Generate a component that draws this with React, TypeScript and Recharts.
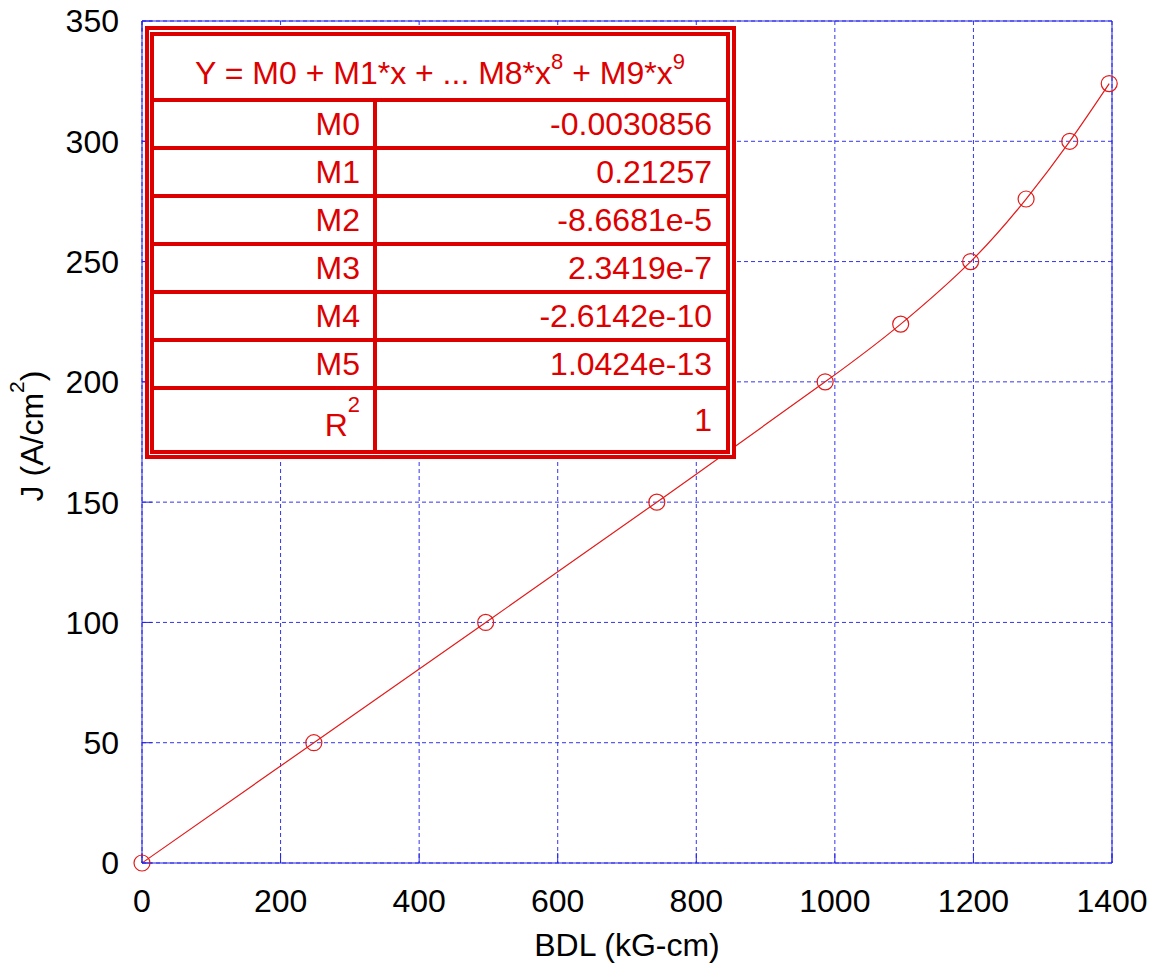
import { CartesianGrid, Line, LineChart, XAxis, YAxis } from "recharts";

const FONT = "'Liberation Sans', Arial, Helvetica, sans-serif";
const RED = "#dd0000";
const CURVE_RED = "#e31a1a";
const BLUE = "#2323e6";
const GRID_BLUE = "#3434ee";

// measured points
const bdl = [0, 248, 496, 743, 986, 1095, 1196, 1276, 1339, 1396];
const currentDensity = [0, 50, 100, 150, 200, 224, 250, 276, 300, 324];

const xTicks = [0, 200, 400, 600, 800, 1000, 1200, 1400];
const yTicks = [0, 50, 100, 150, 200, 250, 300, 350];

// fit summary table
const coefNames = ["M0", "M1", "M2", "M3", "M4", "M5"];
const coefValues = ["-0.0030856", "0.21257", "-8.6681e-5", "2.3419e-7", "-2.6142e-10", "1.0424e-13"];
const rSquared = "1";

const data = bdl.map((x, i) => ({ bdl: x, j: currentDensity[i] }));

const NoTick = () => <g />;

const YLabel = ({ viewBox }: any) => {
  const cx = viewBox.x + 43;
  const cy = viewBox.y + viewBox.height / 2 - 6;
  return (
    <text
      x={cx}
      y={cy}
      transform={`rotate(-90, ${cx}, ${cy})`}
      textAnchor="middle"
      fontSize={32}
      fontFamily={FONT}
      fill="#000"
    >
      J (A/cm
      <tspan dy={-19} fontSize={21}>
        2
      </tspan>
      <tspan dy={19}>)</tspan>
    </text>
  );
};

const XLabel = ({ viewBox }: any) => (
  <text
    x={viewBox.x + viewBox.width / 2}
    y={viewBox.y + 93}
    textAnchor="middle"
    fontSize={32}
    fontFamily={FONT}
    fill="#000"
  >
    BDL (kG-cm)
  </text>
);

const cellText: React.CSSProperties = {
  display: "flex",
  alignItems: "center",
  justifyContent: "flex-end",
  boxSizing: "border-box",
  lineHeight: "32px",
};

function FitTable() {
  const border = `4px solid ${RED}`;
  return (
    <div
      style={{
        position: "absolute",
        left: 145,
        top: 26,
        width: 591,
        height: 433,
        boxSizing: "border-box",
        border,
        padding: "2px 2px 1px 1px",
        background: "#fff",
        fontFamily: FONT,
        fontSize: 32,
        color: RED,
      }}
    >
      <div
        style={{
          boxSizing: "border-box",
          border,
          width: "100%",
          height: "100%",
          display: "flex",
          flexDirection: "column",
        }}
      >
        <div
          style={{
            ...cellText,
            height: 62,
            justifyContent: "center",
            paddingTop: 16,
            whiteSpace: "nowrap",
          }}
        >
          <span>
            Y = M0 + M1*x + ... M8*x
            <span style={{ position: "relative", top: -15, fontSize: 22 }}>8</span> + M9*x
            <span style={{ position: "relative", top: -15, fontSize: 22 }}>9</span>
          </span>
        </div>
        {coefNames.map((name, i) => (
          <div key={name} style={{ display: "flex", height: 48, borderTop: border, boxSizing: "border-box" }}>
            <div style={{ ...cellText, width: 223, borderRight: border, paddingRight: 13 }}>{name}</div>
            <div style={{ ...cellText, flex: 1, paddingRight: 14 }}>{coefValues[i]}</div>
          </div>
        ))}
        <div style={{ display: "flex", flex: 1, borderTop: border, boxSizing: "border-box" }}>
          <div style={{ ...cellText, width: 223, borderRight: border, paddingRight: 13, paddingTop: 14 }}>
            <span>
              R<span style={{ position: "relative", top: -24, fontSize: 22 }}>2</span>
            </span>
          </div>
          <div style={{ ...cellText, flex: 1, paddingRight: 14 }}>{rSquared}</div>
        </div>
      </div>
    </div>
  );
}

export default function App() {
  const tickStyle = { fill: "#000", fontSize: 32, fontFamily: FONT };
  return (
    <div style={{ position: "absolute", left: 0, top: 0, width: 1155, height: 972, background: "#fff" }}>
      <LineChart width={1155} height={972} data={data} margin={{ top: 0, right: 0, bottom: 0, left: 0 }}>
        <CartesianGrid stroke={GRID_BLUE} strokeDasharray="4 3" />
        <XAxis
          dataKey="bdl"
          type="number"
          domain={[0, 1400]}
          ticks={xTicks}
          height={109}
          tickSize={-10}
          tickMargin={36}
          tick={tickStyle}
          stroke={BLUE}
          axisLine={{ stroke: BLUE }}
          tickLine={{ stroke: BLUE }}
          label={<XLabel />}
        />
        <XAxis
          xAxisId="top"
          orientation="top"
          type="number"
          domain={[0, 1400]}
          ticks={xTicks}
          height={21}
          tickSize={-10}
          tick={NoTick}
          axisLine={{ stroke: BLUE }}
          tickLine={{ stroke: BLUE }}
        />
        <YAxis
          type="number"
          domain={[0, 350]}
          ticks={yTicks}
          width={142}
          tickSize={-10}
          tickMargin={33}
          tick={tickStyle}
          axisLine={{ stroke: BLUE }}
          tickLine={{ stroke: BLUE }}
          label={<YLabel />}
        />
        <YAxis
          yAxisId="right"
          orientation="right"
          type="number"
          domain={[0, 350]}
          ticks={yTicks}
          width={43}
          tickSize={-10}
          tick={NoTick}
          axisLine={{ stroke: BLUE }}
          tickLine={{ stroke: BLUE }}
        />
        <Line
          dataKey="j"
          type="natural"
          stroke={CURVE_RED}
          strokeWidth={1.2}
          dot={{ r: 8, stroke: CURVE_RED, strokeWidth: 1.2, fill: "none" }}
          isAnimationActive={false}
        />
      </LineChart>
      <FitTable />
    </div>
  );
}
